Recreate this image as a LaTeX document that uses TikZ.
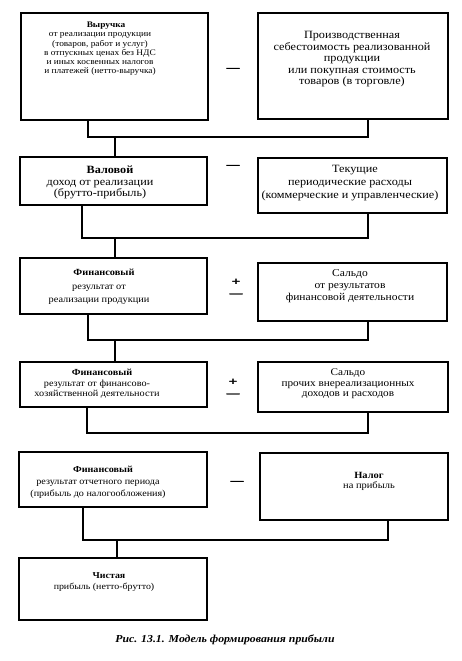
\documentclass[tikz,border=0pt]{standalone}
\usepackage{fontspec}
\setmainfont[FakeStretch=1.1]{Liberation Serif}
\begin{document}
\begin{tikzpicture}[x=1pt,y=-1pt,
  box/.style={draw,line width=1.2pt,inner sep=0pt,rectangle},
  txt/.style={anchor=north,align=center,inner sep=0pt},
  conn/.style={line width=1.2pt},
  minus/.style={inner sep=0pt,anchor=base,font=\fontsize{11}{11}\selectfont\bfseries\addfontfeatures{FakeStretch=2.3,FakeBold=2.5}},
  plus/.style={inner sep=0pt,anchor=base,font=\fontsize{11}{11}\selectfont\bfseries\addfontfeatures{FakeStretch=1.4,FakeBold=1.5}}]
\useasboundingbox (0,0) rectangle (461,661);
% boxes
\node[box,minimum width=187,minimum height=107] (L1) at (114.5,66.5) {};
\node[box,minimum width=190,minimum height=106] (R1) at (353,66) {};
\node[box,minimum width=187,minimum height=48] (L2) at (113.5,181) {};
\node[box,minimum width=189,minimum height=55] (R2) at (352.5,185.5) {};
\node[box,minimum width=187,minimum height=56] (L3) at (113.5,286) {};
\node[box,minimum width=189,minimum height=58] (R3) at (352.5,292) {};
\node[box,minimum width=187,minimum height=45] (L4) at (113.5,384.5) {};
\node[box,minimum width=190,minimum height=50] (R4) at (353,387) {};
\node[box,minimum width=188,minimum height=55] (L5) at (113,479.5) {};
\node[box,minimum width=188,minimum height=67] (R5) at (354,486.5) {};
\node[box,minimum width=188,minimum height=62] (L6) at (113,589) {};
% texts
\node[txt,font=\fontsize{8.5}{9.2}\selectfont] (tL1) at (100,22) {\hspace*{12pt}\bfseries Выручка\\от реализации продукции\\(товаров, работ и услуг)\\в отпускных ценах без НДС\\и иных косвенных налогов\\и платежей (нетто-выручка)};
\node[txt,font=\fontsize{11.1}{11.6}\selectfont] (tR1) at (352,31) {Производственная\\себестоимость реализованной\\продукции\\или покупная стоимость\\товаров (в торговле)};
\node[txt,font=\fontsize{11.1}{11.5}\selectfont] (tL2) at (100,166) {\hspace*{20pt}\bfseries Валовой\\доход от реализации\\(брутто-прибыль)};
\node[txt,font=\fontsize{11.1}{13}\selectfont] (tR2) at (350,165) {\hspace*{10pt}Текущие\\периодические расходы\\(коммерческие и управленческие)};
\node[txt,font=\fontsize{9.4}{13.5}\selectfont] (tL3) at (99,269) {\hspace*{10pt}\bfseries Финансовый\\результат от\\реализации продукции};
\node[txt,font=\fontsize{10.5}{12}\selectfont] (tR3) at (350,269) {Сальдо\\от результатов\\финансовой деятельности};
\node[txt,font=\fontsize{9.3}{10.5}\selectfont] (tL4) at (97,369) {\hspace*{10pt}\bfseries Финансовый\\результат от финансово-\\хозяйственной деятельности};
\node[txt,font=\fontsize{10.2}{10.5}\selectfont] (tR4) at (348,369) {Сальдо\\прочих внереализационных\\доходов и расходов};
\node[txt,font=\fontsize{9.2}{12}\selectfont] (tL5) at (98,466) {\hspace*{10pt}\bfseries Финансовый\\результат отчетного периода\\(прибыль до налогообложения)};
\node[txt,font=\fontsize{9.5}{10.5}\selectfont] (tR5) at (369,472) {\bfseries Налог\\на прибыль};
\node[txt,font=\fontsize{9}{11.7}\selectfont] (tL6) at (104,572) {\hspace*{10pt}\bfseries Чистая\\прибыль (нетто-брутто)};
% signs (placed by baseline)
\node[minus] (s1) at (233,71) {–};
\node[minus] (s2) at (233,168) {–};
\node[plus] (s3p) at (236,285) {+};
\node[minus] (s3m) at (236,296.5) {–};
\node[plus] (s4p) at (233,385) {+};
\node[minus] (s4m) at (233,396.5) {–};
\node[minus] (s5) at (237,484) {–};
% junctions
\coordinate (j1) at (115,137);
\coordinate (j2) at (115,238);
\coordinate (j3) at (115,340);
\coordinate (j4) at (115,433);
\coordinate (j5) at (117,540);
% connectors
\draw[conn] (88,0 |- L1.south) |- (j1) -| (368,0 |- R1.south);
\draw[conn] (j1) -- (L2.north -| j1);
\draw[conn] (82,0 |- L2.south) |- (j2) -| (368,0 |- R2.south);
\draw[conn] (j2) -- (L3.north -| j2);
\draw[conn] (88,0 |- L3.south) |- (j3) -| (368,0 |- R3.south);
\draw[conn] (j3) -- (L4.north -| j3);
\draw[conn] (87,0 |- L4.south) |- (j4) -| (368,0 |- R4.south);
\draw[conn] (83,0 |- L5.south) |- (j5) -| (388,0 |- R5.south);
\draw[conn] (j5) -- (L6.north -| j5);
% caption
\node[inner sep=0pt,font=\fontsize{10.7}{12}\selectfont\bfseries\itshape] (cap) at (225,640) {Рис. 13.1. Модель формирования прибыли};
\end{tikzpicture}
\end{document}
